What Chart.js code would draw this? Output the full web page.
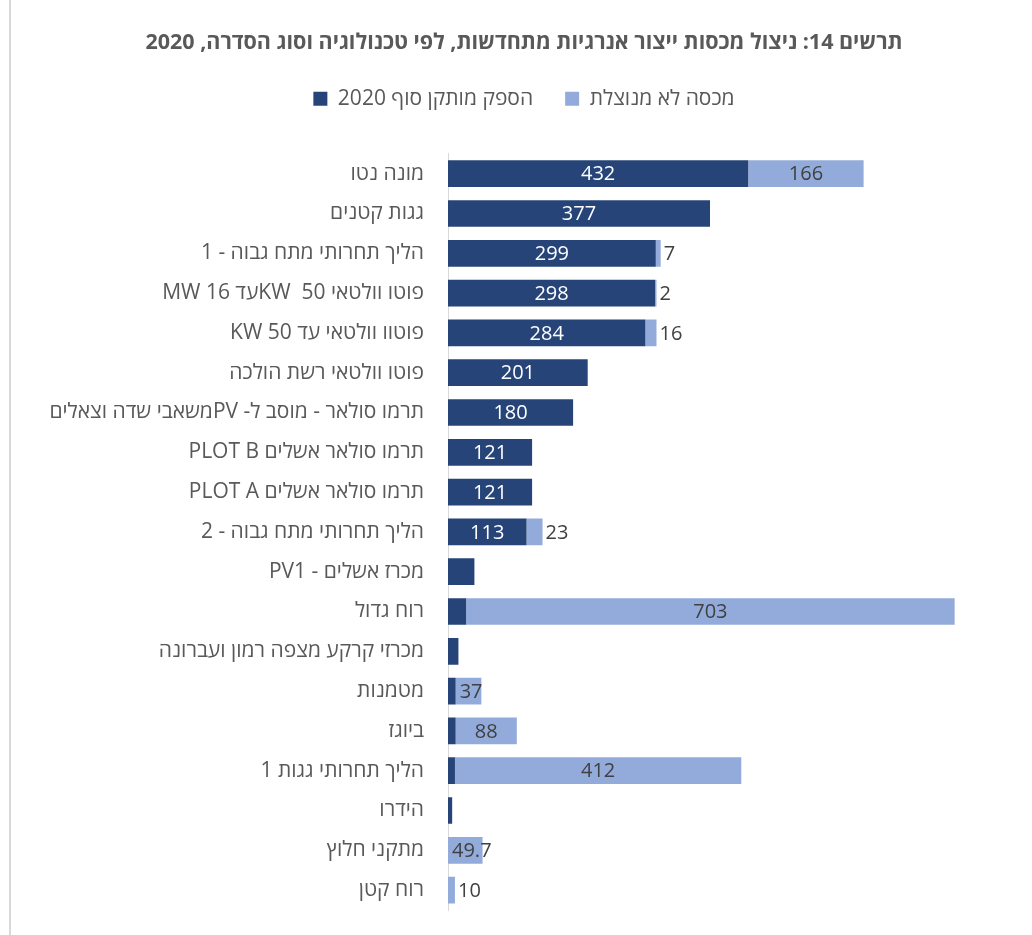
<!DOCTYPE html>
<html>
<head>
<meta charset="utf-8">
<script src="https://cdn.jsdelivr.net/npm/chart.js@4"></script>
<style>
html,body{margin:0;padding:0;background:#fff;}
#wrap{position:relative;width:1032px;height:935px;}
canvas{direction:rtl;}
</style>
</head>
<body>
<div id="wrap"><canvas id="c" width="1032" height="935"></canvas></div>
<script>
const categories = ['מונה נטו','גגות קטנים','הליך תחרותי מתח גבוה - 1','פוטו וולטאי 50  KWעד 16 MW','פוטוו וולטאי עד 50 KW','פוטו וולטאי רשת הולכה','תרמו סולאר - מוסב ל- PVמשאבי שדה וצאלים','תרמו סולאר אשלים PLOT B','תרמו סולאר אשלים PLOT A','הליך תחרותי מתח גבוה - 2','מכרז אשלים - PV1','רוח גדול','מכרזי קרקע מצפה רמון ועברונה','מטמנות','ביוגז','הליך תחרותי גגות 1','הידרו','מתקני חלוץ','רוח קטן'];
const installed = [432,377,299,298,284,201,180,121,121,113,38,26,15,11,11,10,6,0,0];
const unused = [166,0,7,2,16,0,0,0,0,23,0,703,0,37,88,412,0,49.7,10];
const seriesNames = ['הספק מותקן סוף 2020','מכסה לא מנוצלת'];
const titleText = 'תרשים 14: ניצול מכסות ייצור אנרגיות מתחדשות, לפי טכנולוגיה וסוג הסדרה, 2020';

const FONT = "'Open Sans','Liberation Sans','DejaVu Sans',sans-serif";
const DARK = '#264478';
const LIGHT = '#93abdb';
const PAD_LEFT = 44;

const labelPlugin = {
  id: 'barLabels',
  afterDatasetsDraw(chart) {
    const ctx = chart.ctx;
    ctx.save();
    ctx.font = '20px ' + FONT;
    ctx.textBaseline = 'middle';
    chart.data.datasets.forEach((ds, di) => {
      const meta = chart.getDatasetMeta(di);
      meta.data.forEach((bar, i) => {
        const v = ds.data[i];
        if (!v) return;
        const txt = String(v);
        const w = ctx.measureText(txt).width;
        const x0 = bar.base, x1 = bar.x;
        const bw = Math.abs(x1 - x0);
        if (di === 0) {
          if (w + 30 > bw) return;
          ctx.fillStyle = '#ffffff';
          ctx.textAlign = 'center';
          ctx.fillText(txt, (x0 + x1) / 2, bar.y + 1);
        } else {
          ctx.fillStyle = '#404040';
          if (w <= bw * 1.25) {
            ctx.textAlign = 'center';
            ctx.fillText(txt, Math.max((x0 + x1) / 2, x0 + w / 2 + 4), bar.y + 1);
          } else {
            ctx.textAlign = 'left';
            ctx.fillText(txt, x1 + 3, bar.y + 1);
          }
        }
      });
    });
    ctx.restore();
  }
};

const framePlugin = {
  id: 'frame',
  beforeDraw(chart) {
    const ctx = chart.ctx;
    ctx.save();
    ctx.fillStyle = '#d9d9d9';
    ctx.fillRect(9, 0, 2, chart.height);
    ctx.restore();
  }
};

new Chart(document.getElementById('c'), {
  type: 'bar',
  data: {
    labels: categories,
    datasets: [
      { label: seriesNames[0], data: installed, backgroundColor: DARK, borderWidth: 0, categoryPercentage: 1, barPercentage: 0.67 },
      { label: seriesNames[1], data: unused, backgroundColor: LIGHT, borderWidth: 0, categoryPercentage: 1, barPercentage: 0.67 }
    ]
  },
  options: {
    indexAxis: 'y',
    responsive: false,
    animation: false,
    layout: { padding: { left: PAD_LEFT, right: 28, top: 0, bottom: 25 } },
    plugins: {
      tooltip: { enabled: false },
      title: {
        display: true,
        text: titleText,
        color: '#595959',
        font: { family: FONT, size: 21.5, weight: 'bold' },
        padding: { top: 30, bottom: 0.5 }
      },
      legend: {
        display: true,
        position: 'top',
        labels: {
          color: '#595959',
          font: { family: FONT, size: 21 },
          boxWidth: 14,
          boxHeight: 14,
          padding: 32
        }
      }
    },
    scales: {
      x: {
        stacked: true,
        position: 'top',
        min: 0,
        max: 800,
        display: true,
        grid: { display: false, drawTicks: false },
        border: { display: false },
        ticks: { display: false },
        afterFit(scale) { scale.height = 34.5; scale.paddingLeft = 0; scale.paddingRight = 0; }
      },
      y: {
        stacked: true,
        grid: { display: false, drawTicks: false },
        border: { display: true, color: '#d9d9d9', width: 1 },
        ticks: { color: '#595959', font: { family: FONT, size: 21 }, padding: 24, autoSkip: false },
        afterFit(scale) { scale.width = 448 - PAD_LEFT; scale.paddingTop = 0; scale.paddingBottom = 0; }
      }
    }
  },
  plugins: [framePlugin, labelPlugin]
});
</script>
</body>
</html>
